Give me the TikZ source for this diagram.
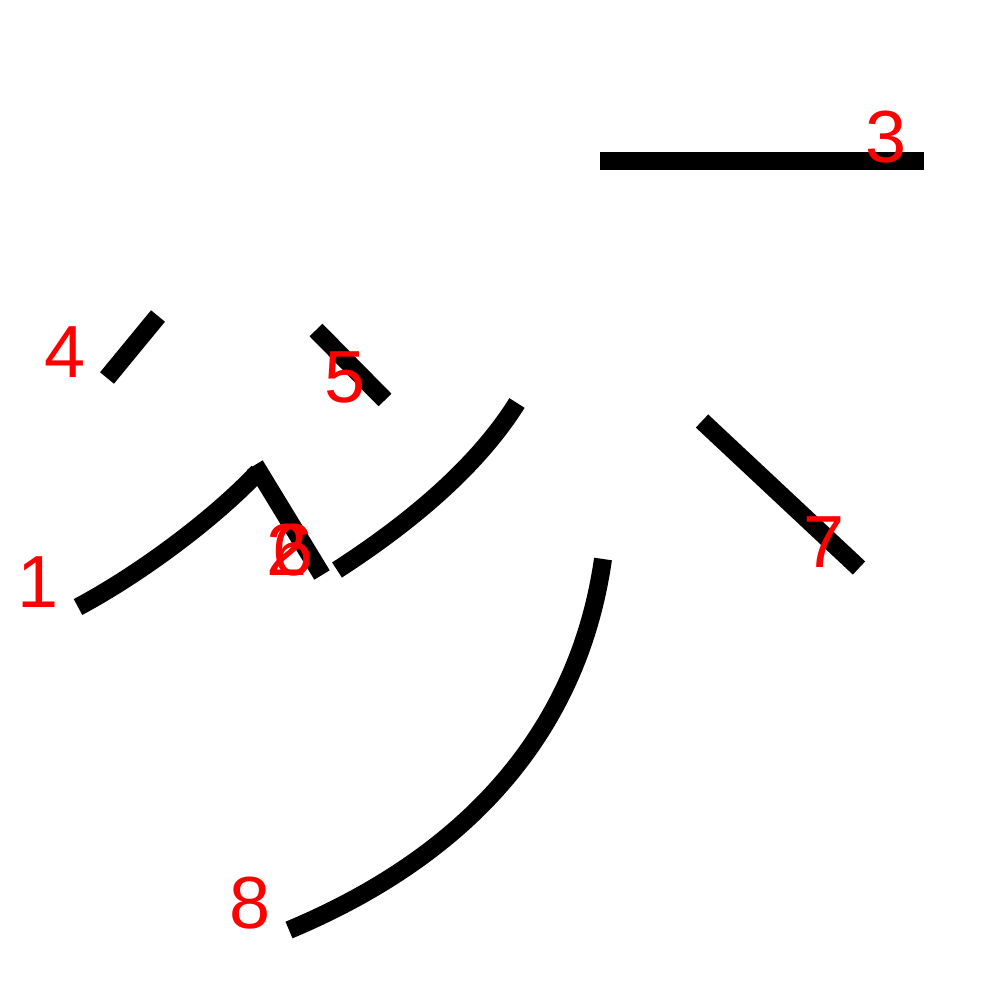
\documentclass[tikz,border=0pt]{standalone}
\usepackage{fontspec}
\setmainfont{Liberation Sans}
\definecolor{stroke_black}{RGB}{0, 0, 0}
\definecolor{order_red}{RGB}{255, 0, 0}
\usetikzlibrary{positioning}

\begin{document}
\begin{tikzpicture}[x=0.01cm, y=-0.01cm,
    brush/.style={stroke_black, line width=0.18cm, line cap=butt},
    order/.style={order_red, font=\fontsize{21}{21}\selectfont, inner sep=0pt}]
        % Canvas
        \useasboundingbox (0,0) rectangle (1000,1000);

        % Strokes
        \draw[brush] (78,607) .. controls (140,574) and (215,518) .. (258,472);
        \draw[brush] (255,465) -- (322,575);
        \draw[brush] (600,161) -- (924,161);
        \draw[brush] (107,378) -- (158,316);
        \draw[brush] (316,330) -- (385,400);
        \draw[brush] (337,570) .. controls (405,526) and (475,470) .. (517,403);
        \draw[brush] (702,421) -- (859,568);
        \draw[brush] (603,559) .. controls (580,720) and (480,850) .. (289,930);

        % Stroke numbers
        \node[order] (n1) at (38,582) {1};
        \node[order] (n2) at (287,550) {2};
        \node[order] (n3) at (886,137) {3};
        \node[order] (n4) at (65,352) {4};
        \node[order] (n5) at (345,377) {5};
        \node[order] (n6) at (293,550) {6};
        \node[order] (n7) at (824,542) {7};
        \node[order] (n8) at (250,903) {8};
      \end{tikzpicture}
\end{document}
